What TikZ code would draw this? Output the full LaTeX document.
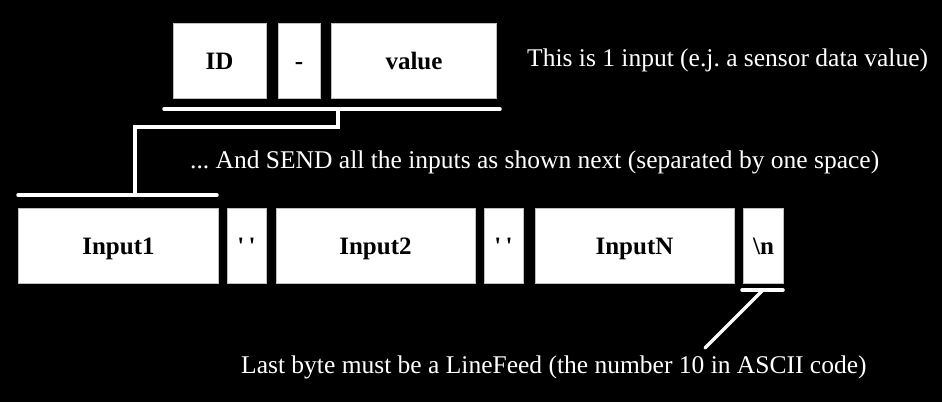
\documentclass[tikz,border=0pt]{standalone}
\usepackage{fontspec}
\setmainfont{Liberation Serif}
\frenchspacing
\begin{document}
\begin{tikzpicture}[x=1pt,y=-1pt,
  box/.style={fill=white,draw=black!25,line width=0.6pt,inner sep=0pt,text=black,
    text height=17pt,text depth=0pt,
    font=\bfseries\fontsize{25}{30}\selectfont},
  lbl/.style={text=white,anchor=west,inner sep=0pt,font=\fontsize{25.5}{30}\selectfont},
  wire/.style={draw=white,line width=3.5pt,line cap=round,line join=miter}]
\fill[black] (0,0) rectangle (942,402);
\useasboundingbox (0,0) rectangle (942,402);
% top boxes
\node[box,minimum width=93pt,minimum height=75pt] (id) at (219.5,61) {ID};
\node[box,minimum width=42pt,minimum height=75pt] (dash) at (299,61) {-};
\node[box,minimum width=165pt,minimum height=75pt] (val) at (414,61) {value};
\node[lbl] (t1) at (527,60) {This is 1 input (e.j. a sensor data value)};
% bottom boxes
\node[box,minimum width=200pt,minimum height=75pt] (in1) at (118.5,246) {Input1};
\node[box,minimum width=39pt,minimum height=75pt] (sp1) at (246.5,246) {\textquotesingle\,\textquotesingle};
\node[box,minimum width=199pt,minimum height=75pt] (in2) at (375.5,246) {Input2};
\node[box,minimum width=39pt,minimum height=75pt] (sp2) at (503.5,246) {\textquotesingle\,\textquotesingle};
\node[box,minimum width=199pt,minimum height=75pt] (inN) at (634.5,246) {InputN};
\node[box,minimum width=40pt,minimum height=75pt] (nl) at (763.5,246) {\textbackslash n};
\node[lbl] (t2) at (190,162) {... And SEND all the inputs as shown next (separated by one space)};
\node[lbl] (t3) at (241,367) {Last byte must be a LineFeed (the number 10 in ASCII code)};
% connectors
\coordinate (ta) at (164,109);
\coordinate (tb) at (500,109);
\coordinate (tm) at (338,109);
\coordinate (ba) at (18,195);
\coordinate (bb) at (217,195);
\coordinate (bm) at (135,195);
\coordinate (na) at (742,290);
\coordinate (nb) at (783,290);
\coordinate (nm) at (763,290);
\coordinate (ne) at (705,348);
\draw[wire] (ta) -- (tb);
\draw[wire] (tm) -- (338,127) -| (bm);
\draw[wire] (ba) -- (bb);
\draw[wire] (na) -- (nb);
\draw[wire] (nm) -- (ne);
\end{tikzpicture}
\end{document}
